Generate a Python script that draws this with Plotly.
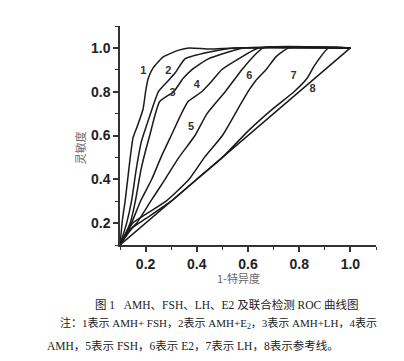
import plotly.graph_objects as go

# ROC curves (x = 1-特异度, y = 灵敏度)
c1_x = [0.10, 0.11, 0.12, 0.13, 0.14, 0.151, 0.17, 0.19, 0.20, 0.21, 0.23, 0.27, 0.33, 0.37, 0.45, 0.55, 1.00]
c1_y = [0.10, 0.22, 0.30, 0.40, 0.50, 0.59, 0.65, 0.72, 0.80, 0.86, 0.91, 0.96, 0.99, 1.00, 0.995, 1.00, 1.00]
c2_x = [0.10, 0.126, 0.145, 0.164, 0.183, 0.205, 0.222, 0.25, 0.28, 0.315, 0.354, 0.445, 0.55, 1.00]
c2_y = [0.10, 0.20, 0.30, 0.45, 0.57, 0.65, 0.71, 0.80, 0.84, 0.885, 0.95, 0.98, 1.00, 1.00]
c3_x = [0.10, 0.14, 0.16, 0.183, 0.216, 0.255, 0.31, 0.346, 0.38, 0.445, 0.52, 0.58, 1.00]
c3_y = [0.10, 0.20, 0.30, 0.45, 0.60, 0.755, 0.80, 0.86, 0.90, 0.95, 0.98, 1.00, 1.00]
c4_x = [0.10, 0.145, 0.18, 0.224, 0.26, 0.30, 0.34, 0.366, 0.419, 0.46, 0.497, 0.563, 0.641, 1.00]
c4_y = [0.10, 0.20, 0.30, 0.40, 0.50, 0.60, 0.70, 0.755, 0.80, 0.85, 0.90, 0.95, 1.00, 1.00]
c5_x = [0.10, 0.13, 0.165, 0.22, 0.276, 0.33, 0.393, 0.44, 0.511, 0.576, 0.62, 0.66, 1.00]
c5_y = [0.10, 0.16, 0.20, 0.30, 0.40, 0.50, 0.60, 0.70, 0.80, 0.90, 0.96, 1.00, 1.00]
c6_x = [0.10, 0.15, 0.20, 0.28, 0.37, 0.43, 0.50, 0.55, 0.60, 0.63, 0.67, 0.71, 0.76, 1.00]
c6_y = [0.10, 0.20, 0.24, 0.30, 0.40, 0.50, 0.60, 0.70, 0.80, 0.85, 0.90, 0.96, 1.00, 1.00]
c7_x = [0.10, 0.15, 0.20, 0.30, 0.40, 0.50, 0.60, 0.70, 0.78, 0.83, 0.86, 0.915, 1.00]
c7_y = [0.10, 0.18, 0.22, 0.30, 0.40, 0.50, 0.62, 0.725, 0.80, 0.86, 0.92, 1.00, 1.00]
c8_x = [0.10, 1.00]
c8_y = [0.10, 1.00]

curves = [(c1_x, c1_y), (c2_x, c2_y), (c3_x, c3_y), (c4_x, c4_y),
          (c5_x, c5_y), (c6_x, c6_y), (c7_x, c7_y), (c8_x, c8_y)]

label_text = ["1", "2", "3", "4", "5", "6", "7", "8"]
label_x = [0.191, 0.289, 0.305, 0.400, 0.378, 0.605, 0.778, 0.852]
label_y = [0.893, 0.893, 0.793, 0.828, 0.636, 0.872, 0.872, 0.813]

tick_vals = [0.2, 0.4, 0.6, 0.8, 1.0]
tick_text = ["0.2", "0.4", "0.6", "0.8", "1.0"]

fig = go.Figure()
for cx, cy in curves:
    fig.add_trace(go.Scatter(x=cx, y=cy, mode="lines",
                             line=dict(color="#1a1a1a", width=1.5, shape="spline", smoothing=0.5),
                             showlegend=False, hoverinfo="skip"))

fig.add_trace(go.Scatter(x=label_x, y=label_y, mode="text", text=label_text,
                         textfont=dict(family="Liberation Sans", size=11, color="#333333", weight="bold"),
                         showlegend=False, hoverinfo="skip"))

axis_common = dict(range=[0.1, 1.1], tickvals=tick_vals, ticktext=tick_text,
                   showgrid=False, zeroline=False, showline=True,
                   linecolor="#333333", linewidth=1.5,
                   ticks="outside", ticklen=5, tickwidth=1.5, tickcolor="#333333",
                   tickfont=dict(family="Liberation Sans", size=14, color="#222222", weight="bold"),
                   minor=dict(dtick=0.1, tick0=0.1, ticks="outside", ticklen=3,
                              tickwidth=1.2, tickcolor="#333333"))

fig.update_xaxes(**axis_common)
fig.update_yaxes(**axis_common)

cjk = "Liberation Serif, Noto Sans CJK SC"
anns = [
    dict(text="灵敏度", x=-0.155, y=0.443, textangle=-90,
         font=dict(family="Noto Sans CJK SC", size=11, color="#666666")),
    dict(text="1-特异度", x=0.462, y=-0.152,
         font=dict(family="Noto Sans CJK SC", size=11, color="#666666")),
    dict(text="图 1   AMH、FSH、LH、E2 及联合检测 ROC 曲线图", x=0.419, y=-0.272,
         font=dict(family=cjk, size=11.5, color="#222222")),
    dict(text="注：1表示 AMH+ FSH，2表示 AMH+E<sub>2</sub>，3表示 AMH+LH，4表示",
         x=-0.241, y=-0.359, xanchor="left",
         font=dict(family=cjk, size=11, color="#222222")),
    dict(text="AMH，5表示 FSH，6表示 E2，7表示 LH，8表示参考线。",
         x=-0.292, y=-0.459, xanchor="left",
         font=dict(family=cjk, size=11.5, color="#222222")),
]
for a in anns:
    a.setdefault("xanchor", "center")
    fig.add_annotation(xref="paper", yref="paper", showarrow=False, yanchor="middle", **a)

fig.update_layout(width=404, height=361, plot_bgcolor="white", paper_bgcolor="white",
                  margin=dict(l=112, r=36, t=18, b=124))

fig.write_html("out.html")
